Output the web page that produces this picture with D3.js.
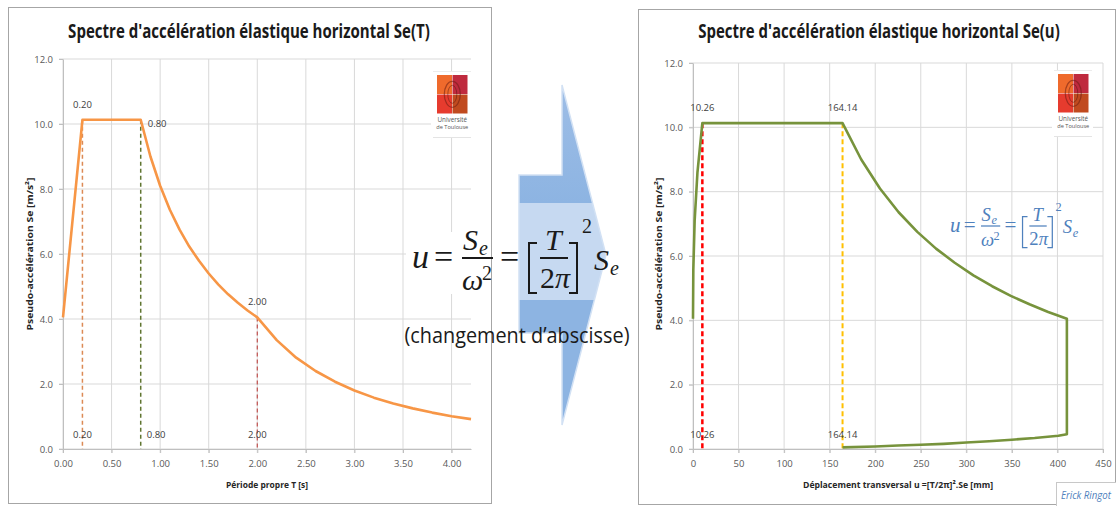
<!DOCTYPE html>
<html>
<head>
<meta charset="utf-8">
<script src="https://cdn.jsdelivr.net/npm/d3@7"></script>
<style>
  body { margin: 0; background: #fff; }
  svg { display: block; }
</style>
</head>
<body>
<svg id="drawing" width="1116" height="506"></svg>
<script>
// --- データ ---
// Se(T) : période T [s] / pseudo-accélération [m/s²]
const periodT = [0, 0.2, 0.8, 0.9, 1.0, 1.1, 1.2, 1.3, 1.4, 1.5, 1.6, 1.7, 1.8, 1.9, 2.0,
                 2.2, 2.4, 2.6, 2.8, 3.0, 3.2, 3.4, 3.6, 3.8, 4.0, 4.2];
const seT = [4.05, 10.13, 10.13, 9.00, 8.10, 7.36, 6.75, 6.23, 5.79, 5.40, 5.06, 4.76, 4.50, 4.26, 4.05,
             3.35, 2.81, 2.40, 2.07, 1.80, 1.58, 1.40, 1.25, 1.12, 1.01, 0.92];

// Se(u) : déplacement u [mm] / pseudo-accélération [m/s²]
const dispU = [0, 0.35, 1.80, 4.91, 10.26, 164.14, 184.66, 205.18, 225.70, 246.22, 266.73, 287.25,
               307.77, 328.29, 348.81, 369.32, 389.84, 410.36,
               410.36, 401, 375, 350, 325, 300, 275, 250, 225, 200, 164.14];
const seU = [4.05, 5.57, 7.09, 8.61, 10.13, 10.13, 9.00, 8.10, 7.36, 6.75, 6.23, 5.79,
             5.40, 5.06, 4.76, 4.50, 4.26, 4.05,
             0.46, 0.41, 0.34, 0.29, 0.24, 0.20, 0.16, 0.13, 0.11, 0.08, 0.05];

// 目盛り
const tickT = [0, 0.5, 1.0, 1.5, 2.0, 2.5, 3.0, 3.5, 4.0];
const tickU = [0, 50, 100, 150, 200, 250, 300, 350, 400, 450];
const tickSe = [0, 2, 4, 6, 8, 10, 12];

// 参照線 (TB, TC, TD)
const markT = [0.2, 0.8, 2.0];
const markSeT = [10.13, 10.13, 4.05];
const markLabelT = ["0.20", "0.80", "2.00"];
const markU = [10.26, 164.14];
const markSeU = [10.13, 10.13];
const markLabelU = ["10.26", "164.14"];

const SANS = "'Open Sans', 'Noto Sans', sans-serif";
const SERIF = "'Liberation Serif', 'DejaVu Serif', serif";

const svg = d3.select('#drawing');

class SpectreChart {
    constructor(cfg) {
        this.cfg = cfg;
        this.margin = { left: cfg.left, top: cfg.top };
        this.width = cfg.width;
        this.height = cfg.height;
    }

    init() {
        const c = this.cfg;
        // パネル枠
        svg.append('rect')
            .attr('x', c.frame[0] + 0.5).attr('y', c.frame[1] + 0.5)
            .attr('width', c.frame[2]).attr('height', c.frame[3])
            .attr('fill', '#fff').attr('stroke', '#a6a6a6');

        // タイトル (横幅 362px に合わせて横方向だけ縮める)
        const title = svg.append('text')
            .attr('x', 0).attr('y', 0)
            .attr('text-anchor', 'middle')
            .attr('font-family', SANS).attr('font-weight', 'bold').attr('font-size', 20)
            .attr('fill', '#1a1a1a')
            .text(c.title);
        const sx = 362 / title.node().getComputedTextLength();
        title.attr('transform', `translate(${c.titleX}, 38) scale(${sx}, 1)`);

        this.chart = svg.append('g')
            .attr('transform', `translate(${this.margin.left}, ${this.margin.top})`);

        this.xscale = d3.scaleLinear().domain(c.xDomain).range([0, this.width]);
        this.yscale = d3.scaleLinear().domain([0, 12]).range([this.height, 0]);

        this.drawGrid();
        this.drawAxes();
        // 式の白背景 (グリッドの上、曲線の下)
        if (c.cover) {
            svg.append('rect')
                .attr('x', c.cover[0]).attr('y', c.cover[1])
                .attr('width', c.cover[2]).attr('height', c.cover[3])
                .attr('fill', '#fff');
            this.chart.raise();
        }
        this.render();
    }

    drawGrid() {
        const g = this.chart.append('g');
        g.selectAll('line.h').data(tickSe).enter().append('line')
            .attr('x1', -4).attr('x2', this.width)
            .attr('y1', d => this.yscale(d)).attr('y2', d => this.yscale(d))
            .attr('stroke', '#d9d9d9');
        g.selectAll('line.v').data(this.cfg.xTicks).enter().append('line')
            .attr('x1', d => this.xscale(d)).attr('x2', d => this.xscale(d))
            .attr('y1', 0).attr('y2', this.height + 4)
            .attr('stroke', '#d9d9d9');
    }

    drawAxes() {
        const c = this.cfg;
        const xaxis = d3.axisBottom(this.xscale)
            .tickValues(c.xTicks).tickFormat(c.xFormat)
            .tickSize(4).tickPadding(7).tickSizeOuter(0);
        const yaxis = d3.axisLeft(this.yscale)
            .tickValues(tickSe).tickFormat(d3.format('.1f'))
            .tickSize(4).tickPadding(6).tickSizeOuter(0);

        const xg = this.chart.append('g')
            .attr('transform', `translate(0, ${this.height})`)
            .call(xaxis);
        const yg = this.chart.append('g').call(yaxis);

        [xg, yg].forEach(a => {
            a.select('.domain').attr('stroke', '#bfbfbf');
            a.selectAll('.tick line').attr('stroke', '#bfbfbf');
            a.selectAll('.tick text')
                .attr('font-family', SANS).attr('font-size', 9.5).attr('fill', '#595959');
        });

        // 軸ラベル
        svg.append('text')
            .attr('x', c.xTitleX).attr('y', 488)
            .attr('text-anchor', 'middle')
            .attr('font-family', SANS).attr('font-weight', 'bold').attr('font-size', 9.5)
            .attr('textLength', c.xTitleLen).attr('lengthAdjust', 'spacingAndGlyphs')
            .attr('fill', '#262626')
            .text(c.xTitle);
        svg.append('text')
            .attr('transform', `translate(${c.yTitleX}, 254) rotate(-90)`)
            .attr('text-anchor', 'middle')
            .attr('font-family', SANS).attr('font-weight', 'bold').attr('font-size', 9.5)
            .attr('textLength', 153).attr('lengthAdjust', 'spacingAndGlyphs')
            .attr('fill', '#262626')
            .text('Pseudo-accélération Se [m/s²]');
    }

    render() {
        const c = this.cfg;
        const x = this.xscale, y = this.yscale;
        const layer = this.chart.append('g');

        // 参照線 (破線)
        c.markX.forEach((mx, i) => {
            layer.append('line')
                .attr('x1', x(mx)).attr('x2', x(mx))
                .attr('y1', y(c.markY[i])).attr('y2', y(0))
                .attr('stroke', c.markColors[i])
                .attr('stroke-width', c.markWidths[i])
                .attr('stroke-dasharray', c.markDash);
        });

        // 曲線
        const pts = c.xs.map((v, i) => [v, c.ys[i]]);
        layer.append('path')
            .datum(pts)
            .attr('fill', 'none')
            .attr('stroke', c.lineColor)
            .attr('stroke-width', 2.6)
            .attr('stroke-linejoin', 'round')
            .attr('d', d3.line().x(d => x(d[0])).y(d => y(d[1])));

        // ラベル
        const lab = (txt, px, py, pos) => {
            const t = layer.append('text')
                .attr('font-family', SANS).attr('font-size', 9.5).attr('fill', '#404040')
                .text(txt);
            if (pos === 'right') t.attr('x', px + 7).attr('y', py + 7);
            else t.attr('x', px).attr('y', py - 12).attr('text-anchor', 'middle');
        };
        c.markX.forEach((mx, i) => {
            lab(c.markLabels[i], x(mx), y(c.markY[i]), c.topPos[i]);
            if (c.botPos[i] === 'right') {
                layer.append('text')
                    .attr('x', x(mx) + 6).attr('y', y(0) - 11)
                    .attr('font-family', SANS).attr('font-size', 9.5).attr('fill', '#404040')
                    .text(c.markLabels[i]);
            } else {
                lab(c.markLabels[i], x(mx), y(0) + 1, 'above');
            }
        });
    }
}

// Université de Toulouse のロゴ
function drawLogo(x, y) {
    const g = svg.append('g').attr('transform', `translate(${x}, ${y})`);
    g.append('rect').attr('x', -6).attr('y', -4).attr('width', 41).attr('height', 67).attr('fill', '#fff');
    g.append('line').attr('x1', -4).attr('x2', 34).attr('y1', -3.5).attr('y2', -3.5).attr('stroke', '#ececec');
    g.append('line').attr('x1', -4).attr('x2', 34).attr('y1', 62.5).attr('y2', 62.5).attr('stroke', '#e4e4e4');
    const cols = ['#ef6a2c', '#bf2a3e', '#e63b2e', '#c04a1f'];
    cols.forEach((col, i) => {
        g.append('rect')
            .attr('x', (i % 2) * 15.5).attr('y', Math.floor(i / 2) * 19.5)
            .attr('width', 15).attr('height', 19).attr('fill', col);
    });
    g.append('ellipse').attr('cx', 15.3).attr('cy', 19.3).attr('rx', 8).attr('ry', 13)
        .attr('fill', 'none').attr('stroke', '#6b1d14').attr('stroke-width', 1.3).attr('opacity', 0.55);
    g.append('ellipse').attr('cx', 15.3).attr('cy', 19.3).attr('rx', 4.5).attr('ry', 9)
        .attr('fill', 'none').attr('stroke', '#5a1a10').attr('stroke-width', 1).attr('opacity', 0.5);
    g.append('text').attr('x', 15.3).attr('y', 47).attr('text-anchor', 'middle')
        .attr('font-family', SANS).attr('font-size', 6.3).attr('fill', '#555').text('Université');
    g.append('text').attr('x', 15.3).attr('y', 54).attr('text-anchor', 'middle')
        .attr('font-family', SANS).attr('font-size', 5.6).attr('fill', '#555').text('de Toulouse');
}

// u = Se/ω² = [T/2π]² Se
function drawFormula(tx, ty, k, color) {
    const g = svg.append('g').attr('transform', `translate(${tx}, ${ty}) scale(${k})`);
    const items = [
        { t: 'u', x: 0, y: 10, s: 34, i: true },
        { t: '=', x: 22, y: 10, s: 34 },
        { t: 'S', x: 51, y: -8, s: 30, i: true },
        { t: 'e', x: 67, y: -3, s: 20, i: true },
        { t: 'ω', x: 50, y: 32, s: 30, i: true },
        { t: '2', x: 70, y: 22, s: 20 },
        { t: '=', x: 88, y: 10, s: 34 },
        { t: 'T', x: 133, y: -8, s: 30, i: true },
        { t: '2', x: 128, y: 30, s: 30 },
        { t: 'π', x: 143, y: 30, s: 30, i: true },
        { t: '2', x: 170, y: -25, s: 20 },
        { t: 'S', x: 182, y: 12, s: 30, i: true },
        { t: 'e', x: 198, y: 17, s: 20, i: true }
    ];
    items.forEach(d => {
        g.append('text')
            .attr('x', d.x).attr('y', d.y)
            .attr('font-family', SERIF).attr('font-size', d.s)
            .attr('font-style', d.i ? 'italic' : 'normal')
            .attr('fill', color)
            .text(d.t);
    });
    [[50, 81], [128, 156]].forEach(b => {
        g.append('line').attr('x1', b[0]).attr('x2', b[1]).attr('y1', 0).attr('y2', 0)
            .attr('stroke', color).attr('stroke-width', 2);
    });
    g.append('path').attr('d', 'M125,-15 H117 V35 H125')
        .attr('fill', 'none').attr('stroke', color).attr('stroke-width', 2);
    g.append('path').attr('d', 'M157,-15 H165 V35 H157')
        .attr('fill', 'none').attr('stroke', color).attr('stroke-width', 2);
}

// 左: Se(T)
const chartT = new SpectreChart({
    frame: [8, 7, 483, 496],
    left: 63, top: 59, width: 408, height: 390,
    title: "Spectre d'accélération élastique horizontal Se(T)", titleX: 249,
    xDomain: [0, 4.2], xTicks: tickT, xFormat: d3.format('.2f'),
    xTitle: 'Période propre T [s]', xTitleX: 267, xTitleLen: 82, yTitleX: 33,
    xs: periodT, ys: seT, lineColor: '#f79646',
    markX: markT, markY: markSeT, markLabels: markLabelT,
    markColors: ['#dc8a55', '#5f7530', '#c0504d'], markWidths: [1.5, 1.5, 1.2], markDash: '4,3',
    topPos: ['above', 'right', 'above'], botPos: ['above', 'right', 'above']
});
chartT.init();

// 右: Se(u)
const chartU = new SpectreChart({
    frame: [638, 9, 477, 495],
    left: 693, top: 63, width: 410, height: 386,
    title: "Spectre d'accélération élastique horizontal Se(u)", titleX: 879,
    xDomain: [0, 450], xTicks: tickU, xFormat: d3.format('d'),
    xTitle: 'Déplacement transversal  u =[T/2π]².Se  [mm]', xTitleX: 898, xTitleLen: 190, yTitleX: 662,
    xs: dispU, ys: seU, lineColor: '#77933c',
    markX: markU, markY: markSeU, markLabels: markLabelU,
    markColors: ['#ff0000', '#ffc000'], markWidths: [2.5, 2], markDash: '5,3',
    topPos: ['above', 'above'], botPos: ['above', 'above'],
    cover: [940, 186, 148, 67]
});
chartU.init();

drawLogo(437, 75);
drawLogo(1058, 74);

drawFormula(950, 226, 0.62, '#4f81bd');

// 中央の矢印
const defs = svg.append('defs');
const grad = defs.append('linearGradient').attr('id', 'arrowGrad')
    .attr('gradientUnits', 'userSpaceOnUse')
    .attr('x1', 0).attr('y1', 85).attr('x2', 0).attr('y2', 425);
[[0, '#9dbde6'], [0.346, '#8db4e2'], [0.347, '#c6d9f1'], [0.632, '#c6d9f1'], [0.633, '#8db4e2'], [1, '#8db4e2']]
    .forEach(s => grad.append('stop').attr('offset', s[0]).attr('stop-color', s[1]));

svg.append('rect').attr('x', 406).attr('y', 232).attr('width', 84).attr('height', 62).attr('fill', '#fff');
svg.append('polygon')
    .attr('points', '519,175 562,175 562,85 606,255 562,425 562,333 519,333')
    .attr('fill', 'url(#arrowGrad)')
    .attr('stroke', '#d2e1f4').attr('stroke-width', 1.5).attr('stroke-linejoin', 'miter');

drawFormula(412, 258, 1, '#1a1a1a');

svg.append('text')
    .attr('x', 517).attr('y', 343)
    .attr('text-anchor', 'middle')
    .attr('font-family', SANS).attr('font-size', 22)
    .attr('textLength', 225).attr('lengthAdjust', 'spacingAndGlyphs')
    .attr('fill', '#1a1a1a')
    .text('(changement d’abscisse)');

// 署名
svg.append('rect').attr('x', 1056.5).attr('y', 482.5).attr('width', 70).attr('height', 30)
    .attr('fill', '#fff').attr('stroke', '#c8c8c8');
svg.append('text')
    .attr('x', 1061).attr('y', 499)
    .attr('font-family', SANS).attr('font-style', 'italic').attr('font-size', 10.5)
    .attr('textLength', 50).attr('lengthAdjust', 'spacingAndGlyphs')
    .attr('fill', '#4f81bd')
    .text('Erick Ringot');
</script>
</body>
</html>
